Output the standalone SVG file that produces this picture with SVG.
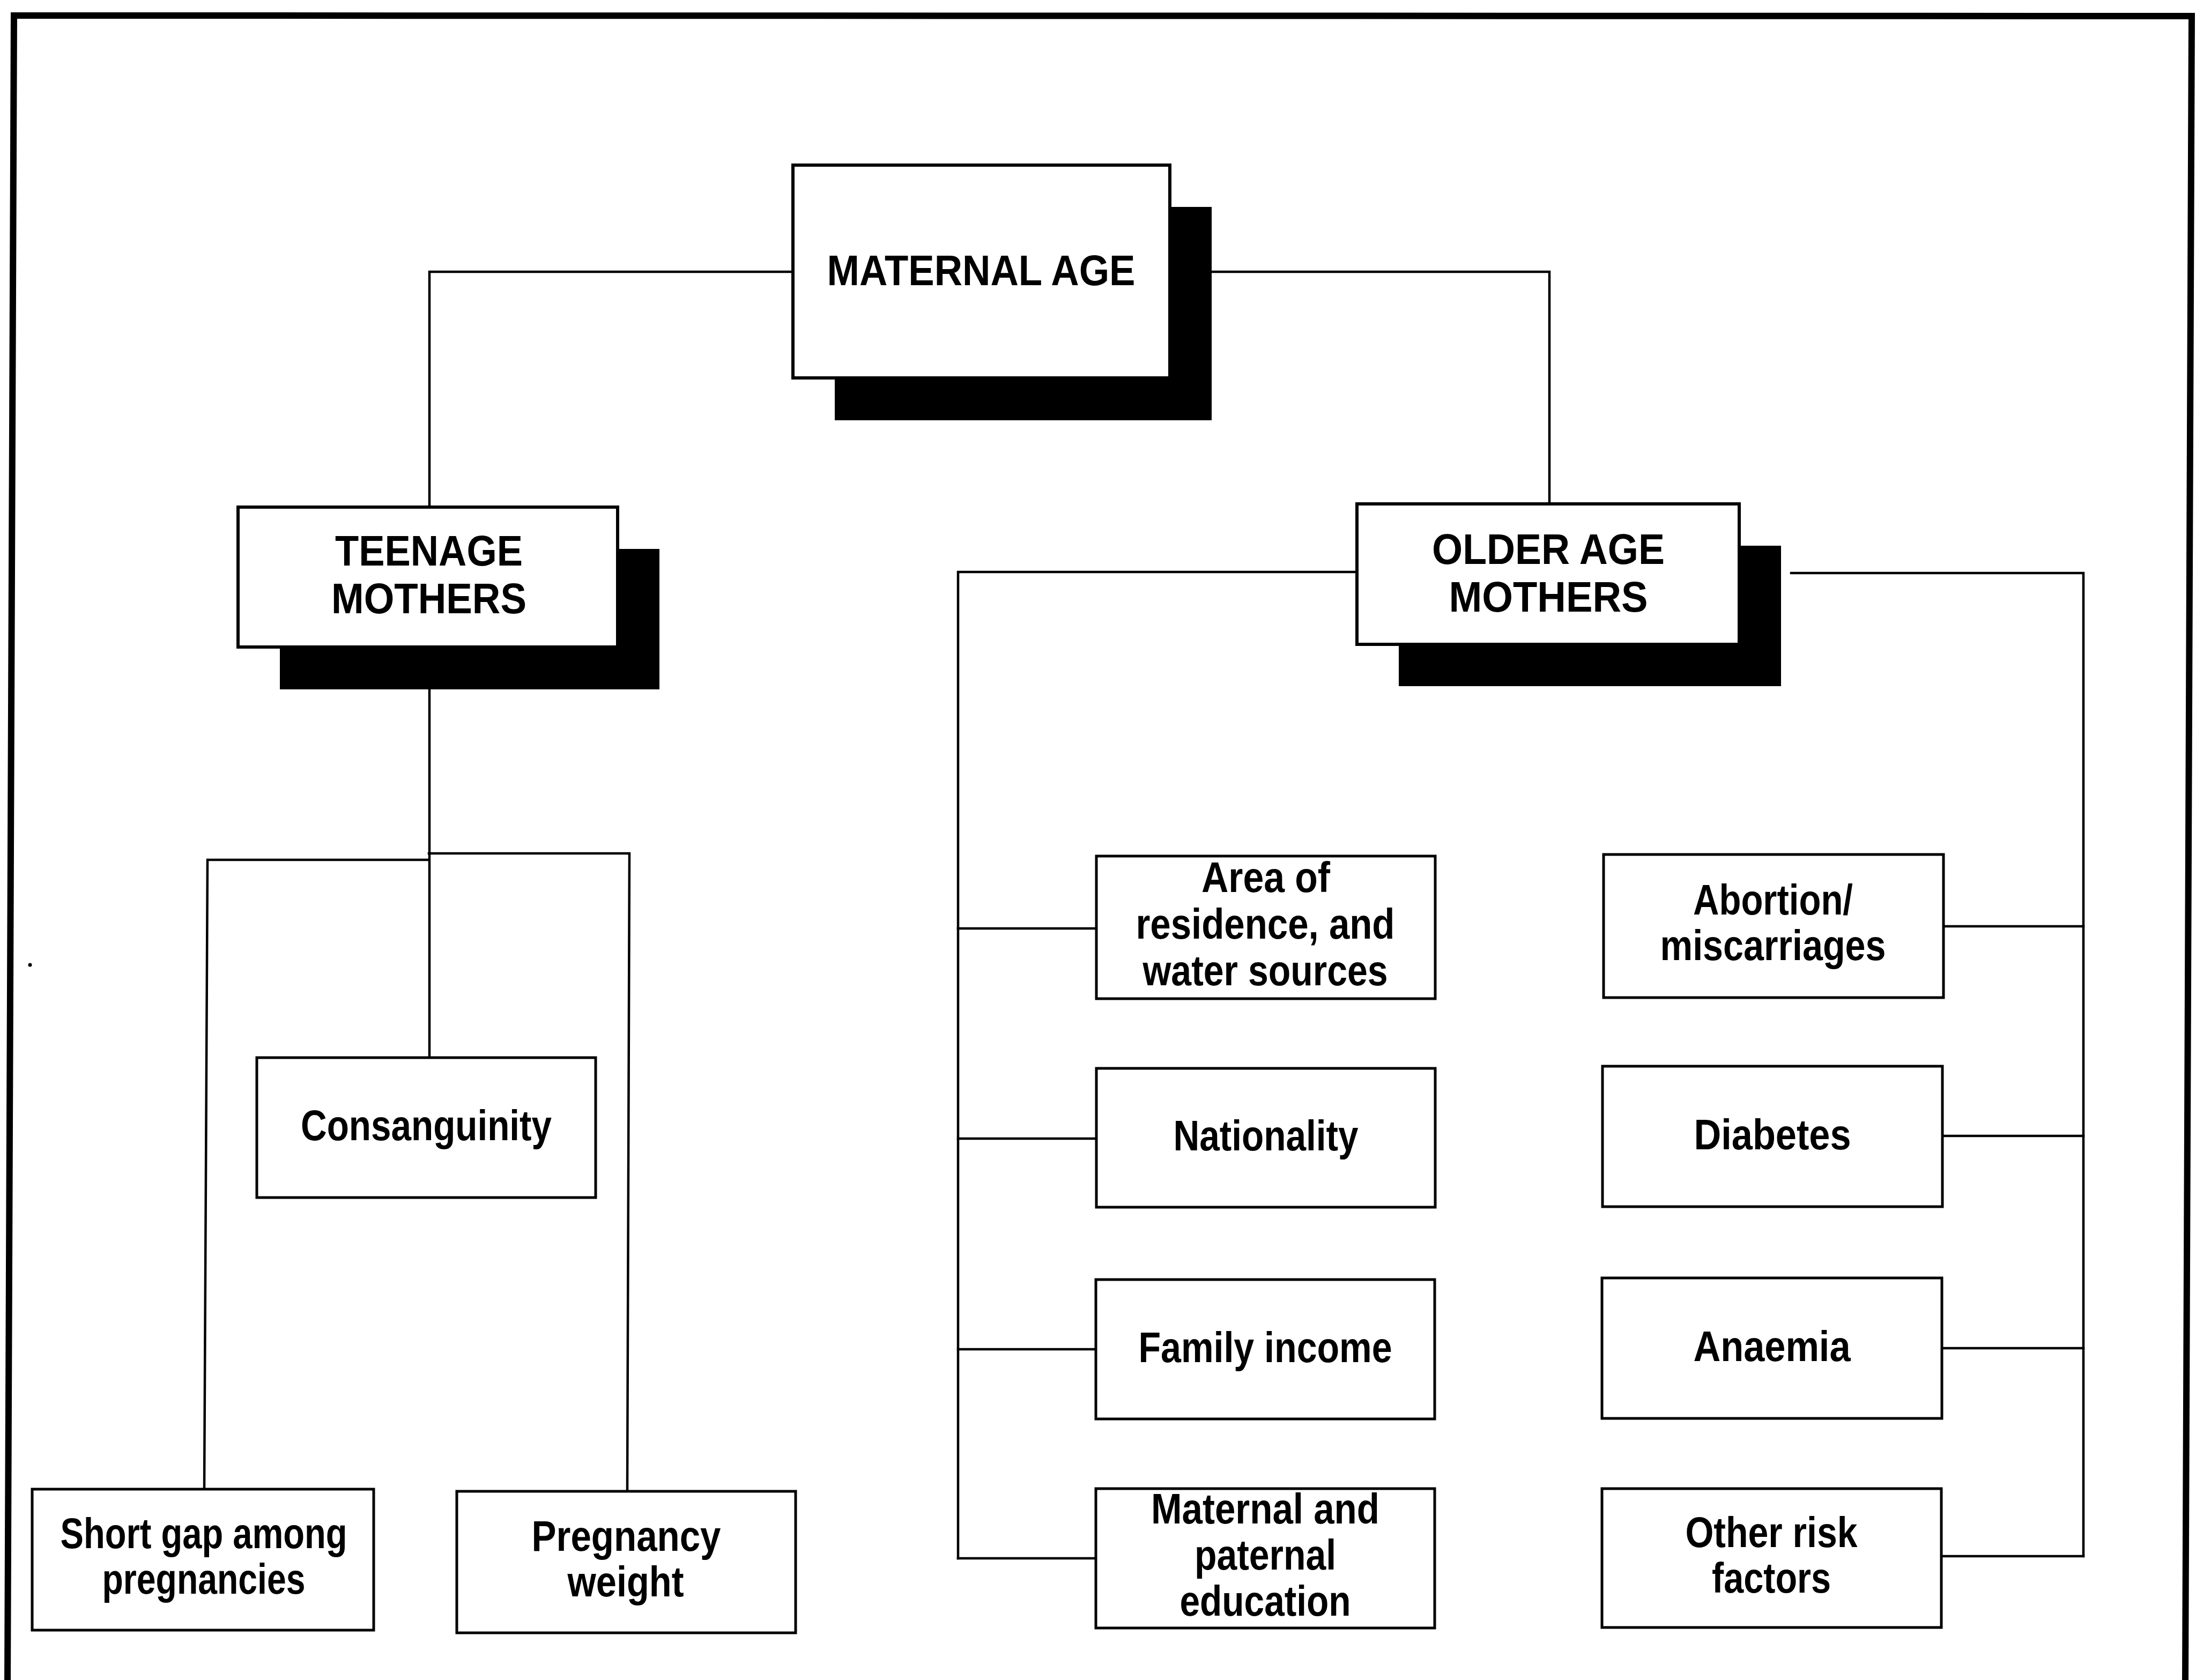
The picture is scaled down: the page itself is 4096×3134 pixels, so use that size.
<svg xmlns="http://www.w3.org/2000/svg" width="4096" height="3134" viewBox="0 0 4096 3134">
  <style>
    .frame { fill: none; stroke: #000; stroke-width: 12; stroke-linejoin: miter; }
    .wire { fill: none; stroke: #000; stroke-width: 4.5; stroke-linejoin: miter; stroke-linecap: square; }
    .shadow { fill: #000; stroke: none; }
    .head { fill: #fff; stroke: #000; stroke-width: 6; }
    .box { fill: #fff; stroke: #000; stroke-width: 5; }
    .t { font-family: "Liberation Sans", Arial, sans-serif; font-weight: bold; fill: #000; text-anchor: middle; }
    .th { font-size: 79px; }
    .tb { font-size: 80px; }
  </style>

  <rect width="4096" height="3134" fill="#fff"/>

  <!-- page border (open at the bottom) -->
  <path class="frame" d="M14,3140 L26,29 L4088,30 L4076,3140"/>
  <circle cx="56" cy="1800" r="3.5" fill="#000"/>

  <!-- connectors -->
  <g id="connectors">
    <!-- maternal age to the two groups -->
    <path class="wire" d="M1479,507 H801 V946"/>
    <path class="wire" d="M2260,507 H2890 V940"/>

    <!-- teenage mothers subtree -->
    <path class="wire" d="M801,1285 V1973"/>
    <path class="wire" d="M800,1604 H387 L381,2778"/>
    <path class="wire" d="M800,1592 H1174 L1170,2782"/>

    <!-- older age mothers: left bus -->
    <path class="wire" d="M2531,1067 H1787 V2907"/>
    <path class="wire" d="M1787,1732 H2045"/>
    <path class="wire" d="M1787,2124 H2045"/>
    <path class="wire" d="M1787,2517 H2045"/>
    <path class="wire" d="M1787,2907 H2045"/>

    <!-- older age mothers: right bus -->
    <path class="wire" d="M3341,1069 H3886 V2903"/>
    <path class="wire" d="M3623,1728 H3886"/>
    <path class="wire" d="M3623,2119 H3886"/>
    <path class="wire" d="M3623,2515 H3886"/>
    <path class="wire" d="M3623,2903 H3886"/>
  </g>

  <!-- header nodes with drop shadows -->
  <g id="maternal-age">
    <rect class="shadow" x="1557" y="386" width="703" height="398"/>
    <rect class="head" x="1479" y="308" width="703" height="397"/>
    <text class="t th" x="1830" y="532" textLength="575" lengthAdjust="spacingAndGlyphs">MATERNAL AGE</text>
  </g>

  <g id="teenage-mothers">
    <rect class="shadow" x="522" y="1024" width="708" height="262"/>
    <rect class="head" x="444" y="946" width="708" height="261"/>
    <text class="t th" x="800" y="1055" textLength="350" lengthAdjust="spacingAndGlyphs">TEENAGE</text>
    <text class="t th" x="800" y="1144" textLength="364" lengthAdjust="spacingAndGlyphs">MOTHERS</text>
  </g>

  <g id="older-age-mothers">
    <rect class="shadow" x="2609" y="1018" width="713" height="262"/>
    <rect class="head" x="2531" y="940" width="713" height="262"/>
    <text class="t th" x="2888" y="1052" textLength="434" lengthAdjust="spacingAndGlyphs">OLDER AGE</text>
    <text class="t th" x="2888" y="1141" textLength="371" lengthAdjust="spacingAndGlyphs">MOTHERS</text>
  </g>

  <!-- teenage mothers factors -->
  <g id="consanguinity">
    <rect class="box" x="479" y="1973" width="632" height="261"/>
    <text class="t tb" x="795" y="2127" textLength="468" lengthAdjust="spacingAndGlyphs">Consanguinity</text>
  </g>

  <g id="short-gap">
    <rect class="box" x="60" y="2778" width="637" height="263"/>
    <text class="t tb" x="380" y="2888" textLength="535" lengthAdjust="spacingAndGlyphs">Short gap among</text>
    <text class="t tb" x="380" y="2973" textLength="379" lengthAdjust="spacingAndGlyphs">pregnancies</text>
  </g>

  <g id="pregnancy-weight">
    <rect class="box" x="852" y="2782" width="632" height="264"/>
    <text class="t tb" x="1168" y="2893" textLength="353" lengthAdjust="spacingAndGlyphs">Pregnancy</text>
    <text class="t tb" x="1167" y="2978" textLength="217" lengthAdjust="spacingAndGlyphs">weight</text>
  </g>

  <!-- older age mothers: social factors -->
  <g id="area-of-residence">
    <rect class="box" x="2045" y="1597" width="632" height="266"/>
    <text class="t tb" x="2361" y="1664" textLength="240" lengthAdjust="spacingAndGlyphs">Area of</text>
    <text class="t tb" x="2360" y="1751" textLength="483" lengthAdjust="spacingAndGlyphs">residence, and</text>
    <text class="t tb" x="2360" y="1838" textLength="457" lengthAdjust="spacingAndGlyphs">water sources</text>
  </g>

  <g id="nationality">
    <rect class="box" x="2045" y="1993" width="632" height="259"/>
    <text class="t tb" x="2361" y="2146" textLength="345" lengthAdjust="spacingAndGlyphs">Nationality</text>
  </g>

  <g id="family-income">
    <rect class="box" x="2044" y="2387" width="632" height="260"/>
    <text class="t tb" x="2360" y="2541" textLength="473" lengthAdjust="spacingAndGlyphs">Family income</text>
  </g>

  <g id="parental-education">
    <rect class="box" x="2044" y="2777" width="632" height="260"/>
    <text class="t tb" x="2360" y="2842" textLength="426" lengthAdjust="spacingAndGlyphs">Maternal and</text>
    <text class="t tb" x="2360" y="2928" textLength="264" lengthAdjust="spacingAndGlyphs">paternal</text>
    <text class="t tb" x="2360" y="3014" textLength="319" lengthAdjust="spacingAndGlyphs">education</text>
  </g>

  <!-- older age mothers: medical factors -->
  <g id="abortion">
    <rect class="box" x="2991" y="1594" width="634" height="267"/>
    <text class="t tb" x="3307" y="1706" textLength="298" lengthAdjust="spacingAndGlyphs">Abortion/</text>
    <text class="t tb" x="3307" y="1791" textLength="421" lengthAdjust="spacingAndGlyphs">miscarriages</text>
  </g>

  <g id="diabetes">
    <rect class="box" x="2989" y="1989" width="634" height="262"/>
    <text class="t tb" x="3306" y="2144" textLength="293" lengthAdjust="spacingAndGlyphs">Diabetes</text>
  </g>

  <g id="anaemia">
    <rect class="box" x="2988" y="2384" width="634" height="262"/>
    <text class="t tb" x="3305" y="2539" textLength="293" lengthAdjust="spacingAndGlyphs">Anaemia</text>
  </g>

  <g id="other-risk-factors">
    <rect class="box" x="2988" y="2777" width="633" height="259"/>
    <text class="t tb" x="3304" y="2886" textLength="321" lengthAdjust="spacingAndGlyphs">Other risk</text>
    <text class="t tb" x="3304" y="2971" textLength="222" lengthAdjust="spacingAndGlyphs">factors</text>
  </g>
</svg>
